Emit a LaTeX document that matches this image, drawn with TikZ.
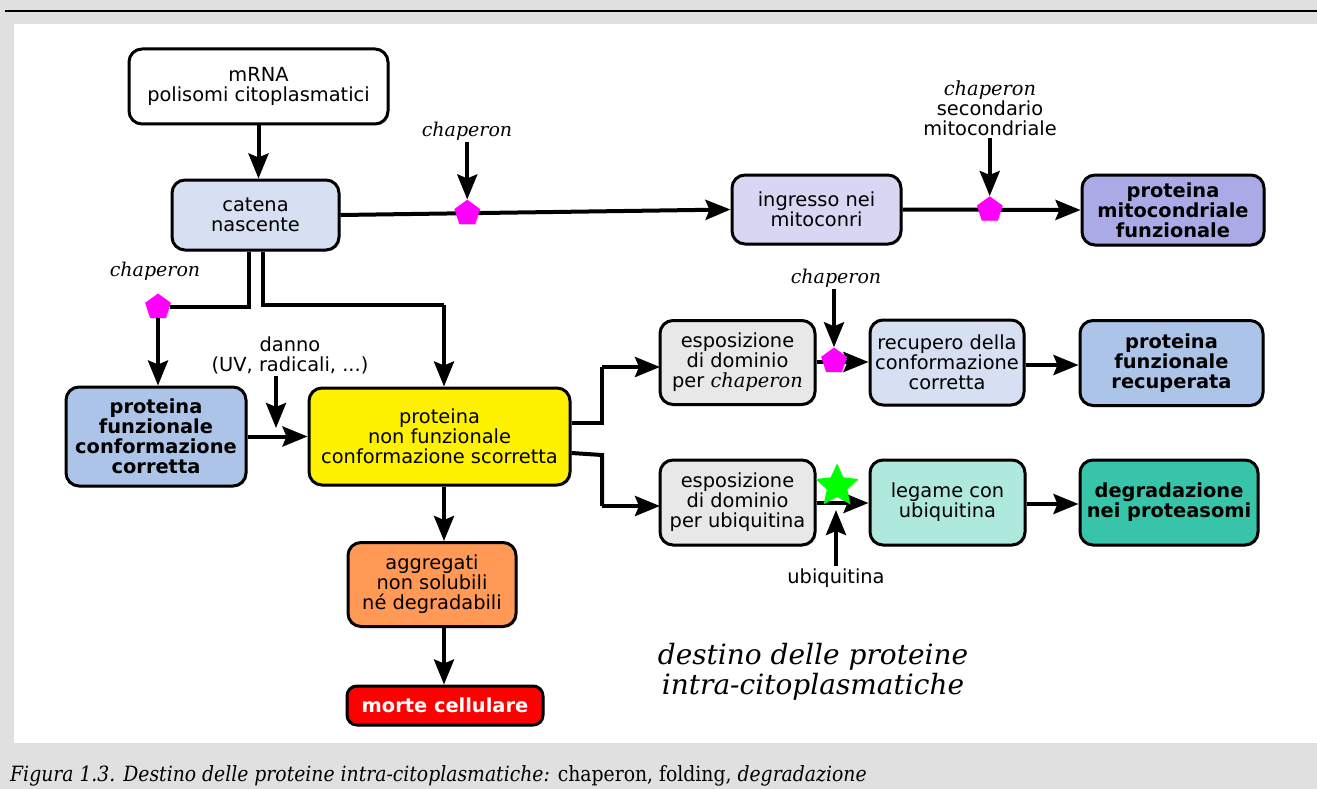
\documentclass[tikz,border=0pt]{standalone}
\usepackage{fontspec}
\setmainfont{DejaVu Sans}
\newfontfamily\serifit{DejaVu Serif}
\newfontfamily\capfont{DejaVu Serif}[FakeStretch=0.895]
\usetikzlibrary{arrows.meta,shapes.geometric,shadows,calc}
\newcommand\myfs{\fontsize{19.4}{20}\selectfont}
\definecolor{pgray}{RGB}{224,224,224}
\definecolor{cblue}{RGB}{214,224,242}
\definecolor{clav}{RGB}{215,215,243}
\definecolor{cmit}{RGB}{170,170,230}
\definecolor{cpf}{RGB}{172,196,232}
\definecolor{cesp}{RGB}{232,232,232}
\definecolor{cleg}{RGB}{175,233,221}
\definecolor{cdeg}{RGB}{55,196,168}
\definecolor{cagg}{RGB}{255,153,85}
\definecolor{cmag}{RGB}{255,0,255}
\definecolor{cgreen}{RGB}{0,255,0}
\tikzset{
  bx/.style={draw, line width=3pt, rounded corners=13pt, align=center, inner sep=0pt,
    drop shadow={shadow xshift=1.5pt, shadow yshift=-1.5pt, opacity=0.3}},
  arr/.style={line width=4pt, -{Stealth[length=25pt,width=20pt,inset=4pt]}},
  ln/.style={line width=4pt},
  penta/.style={regular polygon, regular polygon sides=5, fill=cmag, minimum size=27pt, inner sep=0pt,
    drop shadow={shadow xshift=1pt, shadow yshift=-1pt, opacity=0.3}},
  lab/.style={align=center, inner sep=2pt, font=\myfs},
  ilab/.style={align=center, inner sep=2pt, font=\fontsize{19}{20.5}\serifit\itshape},
}
\begin{document}
\begin{tikzpicture}[x=1pt,y=-1pt]
\useasboundingbox (0,0) rectangle (1317,789);
\fill[pgray] (0,0) rectangle (1317,789);
\fill[white] (14,24) rectangle (1317,743);
\draw[line width=2pt] (5,11) -- (1317,11);

% boxes
\node[bx, fill=white, minimum width=259pt, minimum height=75pt, font=\myfs] (mrna) at (258.5,86.5) {mRNA\\polisomi citoplasmatici};
\node[bx, fill=cblue, minimum width=167pt, minimum height=70pt, font=\myfs] (catena) at (255.5,215) {catena\\nascente};
\node[bx, fill=clav, minimum width=169pt, minimum height=69pt, font=\myfs] (ingr) at (816.5,209.5) {ingresso nei\\mitoconri};
\node[bx, fill=cmit, minimum width=182pt, minimum height=70pt, font=\myfs\bfseries] (mitoc) at (1173,210) {proteina\\mitocondriale\\funzionale};
\node[bx, fill=cpf, minimum width=180pt, minimum height=99pt, font=\myfs\bfseries] (pfcc) at (156,436.5) {proteina\\funzionale\\conformazione\\corretta};
\node[bx, fill=yellow, minimum width=261pt, minimum height=97pt, font=\myfs] (yel) at (439.5,436.5) {proteina\\non funzionale\\conformazione scorretta};
\node[bx, fill=cesp, minimum width=155pt, minimum height=84pt, font=\myfs] (esp1) at (737.5,362.5) {esposizione\\di dominio\\per {\serifit\itshape chaperon}};
\node[bx, fill=cblue, minimum width=154pt, minimum height=85pt, font=\myfs] (recup) at (947,362.5) {recupero della\\conformazione\\corretta};
\node[bx, fill=cpf, minimum width=183pt, minimum height=85pt, font=\myfs\bfseries] (pfr) at (1171.5,363) {proteina\\funzionale\\recuperata};
\node[bx, fill=cesp, minimum width=155pt, minimum height=85pt, font=\myfs] (esp2) at (737.5,502.5) {esposizione\\di dominio\\per ubiquitina};
\node[bx, fill=cleg, minimum width=155pt, minimum height=85pt, font=\myfs] (leg) at (947.5,502.5) {legame con\\ubiquitina};
\node[bx, fill=cdeg, minimum width=178pt, minimum height=85pt, font=\myfs\bfseries] (degr) at (1169,502.5) {degradazione\\nei proteasomi};
\node[bx, fill=cagg, minimum width=168pt, minimum height=84pt, font=\myfs] (aggr) at (432,584.5) {aggregati\\non solubili\\né degradabili};
\node[bx, fill=red, text=white, minimum width=196pt, minimum height=39pt, rounded corners=10pt, font=\myfs\bfseries] (morte) at (445,705.5) {morte cellulare};

% labels
\node[ilab] (c1) at (467,131) {chaperon};
\node[lab] (c2) at (990,108) {{\serifit\itshape chaperon}\\secondario\\mitocondriale};
\node[ilab] (c3) at (155,271) {chaperon};
\node[lab] (danno) at (290,355) {danno\\(UV, radicali, ...)};
\node[ilab] (c4) at (836,278) {chaperon};
\node[lab] (ub) at (836,578) {ubiquitina};
\node[align=center, font=\fontsize{28}{29.5}\serifit\itshape] (dest) at (813,672) {destino delle proteine\\intra-citoplasmatiche};
\node[anchor=base west, inner sep=0pt, font=\fontsize{21}{23}\capfont] (cap) at (10,781) {\itshape Figura 1.3. Destino delle proteine intra-citoplasmatiche:\upshape{} chaperon, folding, \itshape degradazione};

% coordinates
\coordinate (j1) at (444,305);
\coordinate (d1) at (276,428);
\coordinate (y1) at (602,423);
\coordinate (y2) at (602,455);
\coordinate (e1) at (660,367);
\coordinate (e2) at (660,506);

% connectors
\draw[arr] (mrna.south) -- (mrna.south |- catena.north);
\draw[arr] (catena.east) -- (ingr.west);
\node[penta] (p1) at ($(catena.east)!0.325!(ingr.west)$) {};
\draw[arr] (c1.south -| p1.north) -- (p1.north);
\draw[arr] (ingr.east) -- (mitoc.west);
\node[penta] (p2) at ($(ingr.east)!0.49!(mitoc.west)$) {};
\draw[arr] (c2.south -| p2.north) -- (p2.north);

\node[penta] (p3) at (158,307) {};
\draw[ln] ([xshift=-7pt]catena.south) |- (p3.east);
\draw[arr] (p3.south) -- (p3.south |- pfcc.north);
\draw[ln] ([xshift=7pt]catena.south) |- (j1);
\draw[arr] (j1) -- (j1 |- yel.north);

\draw[arr] (pfcc.east |- yel.west) -- (yel.west);
\draw[arr] (danno.south -| d1) -- (d1);

\draw[ln] (yel.east |- y1) -- (y1) -- (y1 |- e1);
\draw[arr] (y1 |- e1) -- (e1);
\draw[ln] (yel.east |- 0,453) -- (y2) -- (y2 |- e2);
\draw[arr] (y2 |- e2) -- (e2);

\draw[arr] (esp1.east |- 0,362) -- (recup.west |- 0,362);
\node[penta] (p4) at (834,361) {};
\draw[arr] (c4.south -| p4.north) -- (p4.north);
\draw[arr] (recup.east |- 0,365) -- (pfr.west |- 0,365);

\draw[arr] (esp2.east |- 0,503) -- (leg.west |- 0,503);
\node[star, star points=5, star point ratio=2.1, fill=cgreen, minimum size=45pt, inner sep=0pt,
  drop shadow={shadow xshift=1pt, shadow yshift=-1pt, opacity=0.3}] (st) at (837,486) {};
\draw[arr] (ub.north) -- (ub.north |- 0,510);
\draw[arr] (leg.east |- 0,504) -- (degr.west |- 0,504);

\draw[arr] (yel.south -| j1) -- (aggr.north -| j1);
\draw[arr] (aggr.south -| j1) -- (morte.north -| j1);
\end{tikzpicture}
\end{document}
